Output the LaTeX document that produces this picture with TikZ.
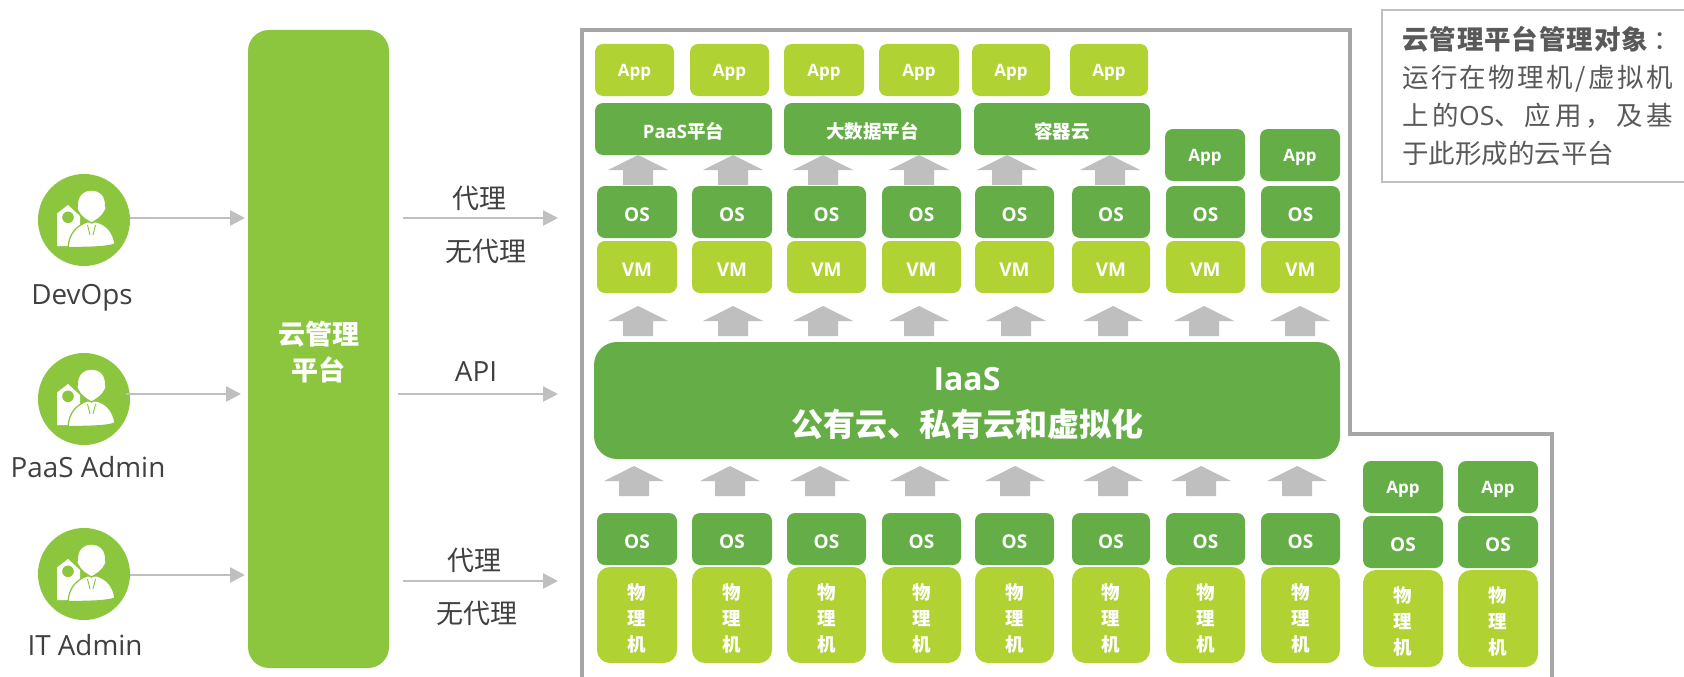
\documentclass[tikz,border=0pt]{standalone}
\usepackage{fontspec}
\usetikzlibrary{arrows.meta}
\setmainfont{Open Sans}
\newfontfamily\zh{Noto Sans CJK SC}
\definecolor{dkgreen}{HTML}{65AE47}
\definecolor{ltgreen}{HTML}{B1D233}
\definecolor{platgreen}{HTML}{8CC63F}
\definecolor{arrowgray}{HTML}{BFBFBF}
\definecolor{framegray}{HTML}{A6A6A6}
\definecolor{labelgray}{HTML}{404040}
\definecolor{notegray}{HTML}{595959}
\newcommand{\bx}[7]{%
  \pgfmathsetmacro{\cxx}{(#3+#5)/2}\pgfmathsetmacro{\cyy}{(#4+#6)/2}%
  \pgfmathsetmacro{\wdd}{#5-#3}\pgfmathsetmacro{\htt}{#6-#4}%
  \node[#2,minimum width=\wdd pt,minimum height=\htt pt] (#1) at (\cxx,\cyy) {#7};}
\tikzset{
  x=1pt,y=-1pt,
  tile/.style={rectangle,rounded corners=8pt,inner sep=0pt,outer sep=0pt,text=white,align=center},
  dkt/.style={tile,fill=dkgreen},
  ltt/.style={tile,fill=ltgreen},
  apptext/.style={font=\fontsize{17}{20}\selectfont\bfseries,execute at begin node={\rule{0pt}{16.5pt}}},
  ostext/.style={font=\fontsize{19}{22}\selectfont\bfseries,execute at begin node={\rule{0pt}{19pt}}},
  zhtext/.style={font=\fontsize{18.5}{26}\selectfont\zh\bfseries,execute at begin node={\rule{0pt}{20.5pt}}},
  physbox/.style={ltt,rounded corners=13pt,font=\fontsize{18.5}{26}\selectfont\zh\bfseries},
  flow/.style={draw=arrowgray,line width=2.5pt,-{Triangle[length=15pt,width=15pt]}},
  user/.style={circle,fill=platgreen,minimum size=92pt,inner sep=0pt,outer sep=0pt},
  rolelabel/.style={text=labelgray,font=\fontsize{27.8}{32}\selectfont,inner sep=0pt},
  midlabel/.style={text=labelgray,font=\fontsize{27}{30}\selectfont\zh,inner sep=0pt},
  bigup/.pic={
    \fill[arrowgray] (0,0) -- (30,15) -- (15,15) -- (15,30) -- (-15,30) -- (-15,15) -- (-30,15) -- cycle;
  },
  admin/.pic={
    \fill[white] (-27,-6.5) -- (-16,-15) -- (-4,-4) -- (-4,8) -- (-16,26) -- (-27,26) -- cycle;
    \fill[platgreen] (-16,-2.7) circle[radius=5.8];
    \draw[platgreen,line width=1.3pt,fill=white] (-16,27.5) .. controls (-15,14) and (-8,6) .. (3,2)
      -- (13,2) .. controls (23,5) and (29,12) .. (31,24)
      .. controls (24,27) and (6,27.5) .. (-16,27.5) -- cycle;
    \draw[platgreen,line width=1.3pt,fill=white] (7.5,-30)
      .. controls (17,-30) and (22,-23) .. (21.5,-15)
      .. controls (23,-13) and (22,-10) .. (21,-9)
      .. controls (18,-3) and (13,0) .. (7.5,3)
      .. controls (2,0) and (-3,-3) .. (-6,-9)
      .. controls (-7,-10) and (-8,-13) .. (-6.5,-15)
      .. controls (-7,-23) and (-2,-30) .. (7.5,-30) -- cycle;
    \draw[platgreen,line width=0.9pt] (3.5,5) -- (6,15) (11.5,5) -- (9,15);
  }
}
\begin{document}
\begin{tikzpicture}
\useasboundingbox (0,0) rectangle (1684,677);
\fill[white] (0,0) rectangle (1684,677);

% users and platform
\bx{plat}{tile,fill=platgreen,rounded corners=21pt,font=\fontsize{27}{36}\selectfont\zh\bfseries}{248}{30}{389}{668}{\rule{0pt}{30pt}云管理\\平台}
\node[user] (u1) at (84,220) {};
\node[user] (u2) at (84,399) {};
\node[user] (u3) at (84,574) {};
\pic at (u1) {admin};
\pic at (u2) {admin};
\pic at (u3) {admin};
\node[rolelabel] (l1) at (82,298) {DevOps};
\node[rolelabel] (l2) at (88,467) {PaaS Admin};
\node[rolelabel] (l3) at (85,645) {IT Admin};
\coordinate (s1) at (130,218); \coordinate (t1) at (245,218);
\coordinate (s2) at (126,394); \coordinate (t2) at (241,394);
\coordinate (s3) at (130,575); \coordinate (t3) at (245,575);
\draw[flow] (s1) -- (t1);
\draw[flow] (s2) -- (t2);
\draw[flow] (s3) -- (t3);

% middle connectors
\coordinate (m1) at (403,218); \coordinate (n1) at (558,218);
\coordinate (m2) at (398,394); \coordinate (n2) at (558,394);
\coordinate (m3) at (403,581); \coordinate (n3) at (558,581);
\draw[flow] (m1) -- (n1);
\draw[flow] (m2) -- (n2);
\draw[flow] (m3) -- (n3);
\node[midlabel] (a1) at (479,198) {代理};
\node[midlabel] (a2) at (486,251) {无代理};
\node[rolelabel] (a3) at (476,372) {API};
\node[midlabel] (a4) at (474,560) {代理};
\node[midlabel] (a5) at (477,613) {无代理};

% frame
\draw[framegray,line width=3.5pt] (582,677) -- (582,30) -- (1350,30) -- (1350,434) -- (1552,434) -- (1552,677);

% note
\draw[arrowgray,line width=2pt] (1684,10) -- (1382,10) -- (1382,182) -- (1684,182);
\node[anchor=north west,inner sep=0pt,align=left,text=notegray,
  font=\fontsize{26.5}{38}\selectfont\zh] (note) at (1402,26)
  {{\bfseries\addfontfeature{LetterSpace=3.5}云管理平台管理对象}\hspace{5pt}：\\
   {\addfontfeature{LetterSpace=9}运行在物理机/虚拟机}\\
   {\addfontfeature{LetterSpace=15}上的{\rmfamily OS}、应用，及基}\\
   于此形成的云平台};

% top applications
\foreach \i/\xa/\xb in {1/595/674,2/690/769,3/784/864,4/879/959,5/972/1050,6/1070/1148}
  {\bx{app\i}{ltt,apptext}{\xa}{44}{\xb}{96}{App}}
\bx{paas}{dkt,zhtext}{595}{103}{772}{155}{{\rmfamily PaaS}平台}
\bx{bigdata}{dkt,zhtext}{784}{103}{961}{155}{大数据平台}
\bx{cont}{dkt,zhtext}{974}{103}{1150}{155}{容器云}
\bx{app7}{dkt,apptext}{1165}{129}{1245}{181}{App}
\bx{app8}{dkt,apptext}{1260}{129}{1340}{181}{App}

% OS, VM and physical columns
\foreach \i/\xa/\xb in {1/597/677,2/692/772,3/787/866,4/882/961,5/975/1054,6/1072/1150,7/1166/1245,8/1261/1340}{
  \bx{vos\i}{dkt,ostext}{\xa}{186}{\xb}{238}{OS}
  \bx{vm\i}{ltt,ostext}{\xa}{241}{\xb}{293}{VM}
  \bx{pos\i}{dkt,ostext}{\xa}{513}{\xb}{565}{OS}
  \bx{phy\i}{physbox}{\xa}{567}{\xb}{663}{\rule{0pt}{22pt}物\\理\\机}
}
\foreach \i/\xa/\xb in {9/1363/1443,10/1458/1538}{
  \bx{app\i}{dkt,apptext}{\xa}{461}{\xb}{513}{App}
  \bx{pos\i}{dkt,ostext}{\xa}{516}{\xb}{568}{OS}
  \bx{phy\i}{physbox}{\xa}{570}{\xb}{667}{\rule{0pt}{22pt}物\\理\\机}
}

% IaaS
\bx{iaas}{dkt,rounded corners=23pt}{594}{342}{1340}{459}{}
\node[inner sep=0pt,align=center,text=white,font=\fontsize{32}{46}\selectfont\bfseries] (iaastext) at ([yshift=-3pt]iaas.center) {IaaS\\{\zh 公有云、私有云和虚拟化}};

% block arrows
\foreach \c in {638,733,823,919,1007,1110}
  {\pic at (\c,155) {bigup};}
\foreach \c in {638,733,823,919,1016,1113,1204,1300}
  {\pic at (\c,306) {bigup};}
\foreach \c in {634,730,820,920,1015,1113,1201,1297}
  {\pic at (\c,466) {bigup};}
\end{tikzpicture}
\end{document}
